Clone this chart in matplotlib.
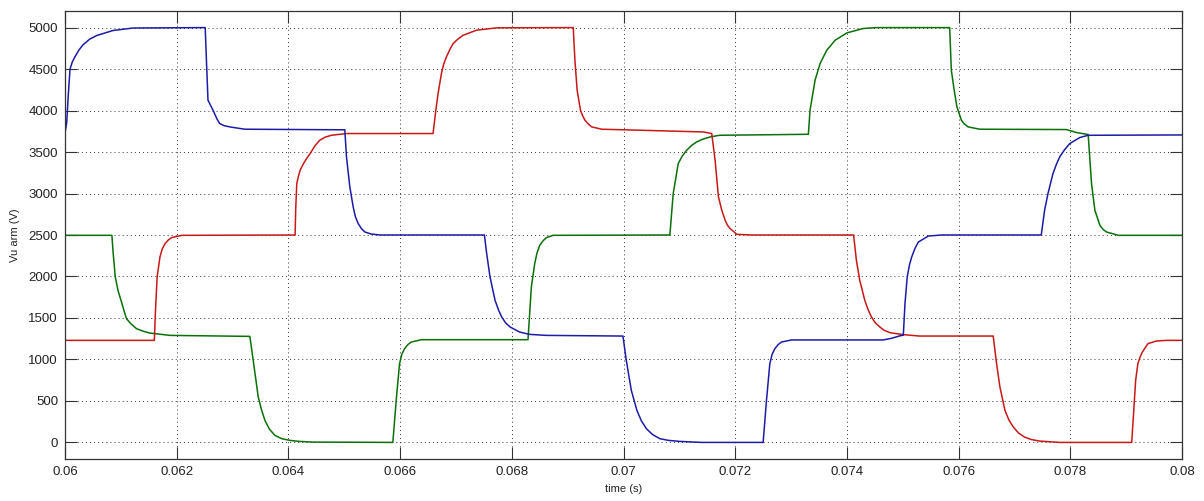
import numpy as np
import matplotlib
matplotlib.use("Agg")
import matplotlib.pyplot as plt
from matplotlib.ticker import FuncFormatter

plt.rcParams["font.family"] = ["Liberation Sans", "DejaVu Sans"]
plt.rcParams["xtick.direction"] = "in"
plt.rcParams["ytick.direction"] = "in"

# values, time in ms, voltage in V
t_blue = [60.00, 60.03, 60.06, 60.09, 60.13, 60.18, 60.25, 60.32, 60.44, 60.57,
          60.86, 61.22, 62.51, 62.56, 62.65, 62.72, 62.77, 62.85, 62.95, 63.22,
          65.01, 65.04, 65.10, 65.16, 65.20, 65.25, 65.31, 65.37, 65.48, 65.64,
          67.51, 67.55, 67.61, 67.70, 67.76, 67.82, 67.89, 67.97, 68.14, 68.32,
          68.62, 69.99, 70.05, 70.14, 70.24, 70.32, 70.41, 70.52, 70.65, 70.80,
          71.01, 71.40, 72.50, 72.56, 72.62, 72.66, 72.71, 72.77, 72.83, 73.01,
          74.65, 74.80, 74.95, 75.01, 75.04, 75.08, 75.12, 75.16, 75.22, 75.28,
          75.46, 75.70, 77.48, 77.54, 77.60, 77.69, 77.75, 77.81, 77.90, 77.99,
          78.17, 78.32, 80.00]
v_blue = [3727, 3850, 4200, 4500, 4585, 4650, 4730, 4790, 4860, 4905,
          4965, 4995, 5000, 4125, 4004, 3900, 3843, 3818, 3803, 3775,
          3768, 3441, 3079, 2838, 2720, 2637, 2575, 2536, 2512, 2500,
          2500, 2276, 1994, 1713, 1600, 1511, 1440, 1391, 1330, 1302,
          1290, 1282, 989, 627, 386, 260, 165, 95, 45, 25,
          12, 0, 0, 506, 949, 1060, 1130, 1180, 1210, 1235,
          1235, 1255, 1285, 1292, 1673, 1994, 2140, 2235, 2340, 2416,
          2488, 2500, 2500, 2798, 2999, 3240, 3350, 3441, 3530, 3602,
          3675, 3702, 3706]

t_red = [60.00, 61.60, 61.62, 61.65, 61.70, 61.74, 61.79, 61.85, 61.91, 62.09,
         64.12, 64.13, 64.15, 64.18, 64.21, 64.27, 64.33, 64.39, 64.47, 64.56,
         64.66, 64.77, 65.04, 66.59, 66.64, 66.68, 66.74, 66.78, 66.83, 66.89,
         66.95, 67.04, 67.13, 67.37, 67.73, 69.10, 69.13, 69.17, 69.23, 69.27,
         69.31, 69.37, 69.43, 69.61, 70.29, 71.43, 71.58, 71.64, 71.70, 71.76,
         71.82, 71.86, 71.91, 72.03, 72.30, 74.12, 74.17, 74.23, 74.32, 74.38,
         74.44, 74.51, 74.59, 74.67, 74.77, 75.01, 75.30, 76.62, 76.68, 76.74,
         76.83, 76.90, 76.98, 77.07, 77.18, 77.30, 77.45, 77.81, 79.10, 79.14,
         79.17, 79.21, 79.25, 79.29, 79.39, 79.54, 79.72, 80.00]
v_red = [1230, 1230, 1592, 1994, 2235, 2330, 2396, 2440, 2469, 2496,
         2500, 2800, 3120, 3210, 3280, 3361, 3425, 3482, 3570, 3642,
         3680, 3702, 3723, 3723, 4004, 4205, 4447, 4560, 4647, 4735,
         4808, 4865, 4908, 4969, 4997, 5000, 4607, 4245, 4004, 3935,
         3883, 3838, 3803, 3775, 3763, 3742, 3723, 3401, 2959, 2798,
         2677, 2620, 2577, 2508, 2500, 2500, 2195, 1954, 1713, 1600,
         1511, 1440, 1391, 1350, 1323, 1299, 1282, 1282, 949, 667,
         386, 270, 185, 115, 64, 35, 16, 0, 0, 426,
         748, 949, 1030, 1089, 1190, 1222, 1230, 1230]

t_green = [60.00, 60.84, 60.86, 60.90, 60.95, 61.02, 61.06, 61.10, 61.18, 61.28,
           61.40, 61.52, 61.88, 63.31, 63.37, 63.46, 63.52, 63.58, 63.66, 63.76,
           63.88, 64.03, 64.20, 64.44, 65.87, 65.93, 65.99, 66.03, 66.08, 66.14,
           66.20, 66.38, 68.29, 68.35, 68.41, 68.45, 68.50, 68.56, 68.62, 68.74,
           70.83, 70.89, 70.98, 71.05, 71.13, 71.22, 71.31, 71.42, 71.55, 71.72,
           73.31, 73.34, 73.43, 73.52, 73.64, 73.79, 74.00, 74.29, 74.53, 75.84,
           75.87, 75.92, 75.97, 76.05, 76.10, 76.17, 76.38, 77.93, 78.11, 78.32,
           78.38, 78.44, 78.53, 78.59, 78.65, 78.86, 80.00]
v_green = [2496, 2496, 2300, 1994, 1830, 1673, 1580, 1492, 1430, 1371,
           1340, 1318, 1290, 1278, 989, 546, 390, 265, 160, 84,
           45, 24, 12, 4, 0, 506, 949, 1060, 1130, 1180,
           1210, 1238, 1238, 1873, 2155, 2280, 2376, 2430, 2469, 2496,
           2500, 2999, 3361, 3450, 3521, 3580, 3622, 3655, 3682, 3702,
           3714, 4004, 4366, 4567, 4728, 4848, 4936, 4989, 5000, 5000,
           4486, 4250, 4044, 3883, 3840, 3803, 3775, 3771, 3735, 3711,
           3120, 2798, 2617, 2565, 2536, 2496, 2496]

x_ticks = [0.06, 0.062, 0.064, 0.066, 0.068, 0.07, 0.072, 0.074, 0.076, 0.078, 0.08]
y_ticks = [0, 500, 1000, 1500, 2000, 2500, 3000, 3500, 4000, 4500, 5000]

fig = plt.figure(figsize=(12.04, 5.01), dpi=100)
ax = fig.add_axes([65/1204, 1 - 459/501, (1182 - 65)/1204, (459 - 11)/501])

lw = 1.1
ax.plot(np.array(t_green) / 1000, v_green, color="#0a700a", lw=lw, solid_joinstyle="round")
ax.plot(np.array(t_red) / 1000, v_red, color="#c81818", lw=lw, solid_joinstyle="round")
ax.plot(np.array(t_blue) / 1000, v_blue, color="#1c1ca8", lw=lw, solid_joinstyle="round")

ax.set_xlim(0.06, 0.08)
ax.set_ylim(-200, 5200)
ax.set_xticks(x_ticks)
ax.set_yticks(y_ticks)
ax.xaxis.set_major_formatter(FuncFormatter(lambda v, p: "%g" % round(v, 4)))
ax.tick_params(axis="both", which="major", length=8.5, width=0.8, color="#333333",
               labelsize=9.5, labelcolor="#222222", top=True, right=True, pad=5)
ax.grid(True, color="#333333", linestyle=(0, (1, 3.2)), linewidth=0.7)
for spine in ax.spines.values():
    spine.set_edgecolor("#333333")
    spine.set_linewidth(0.9)

ax.set_xlabel("time (s)", fontsize=8, color="#222222", labelpad=4)
ax.set_ylabel("Vu arm (V)", fontsize=8, color="#222222", labelpad=6)

fig.savefig("out.png", dpi=100, facecolor="white")
